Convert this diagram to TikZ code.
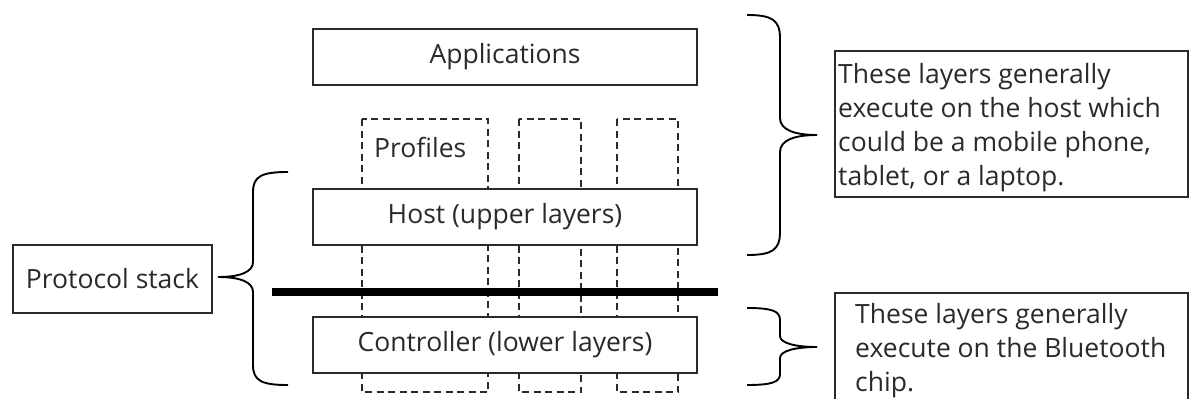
\documentclass[tikz,border=0pt]{standalone}
\usepackage{fontspec}
\setmainfont{Open Sans}
\definecolor{ink}{HTML}{2A2A2A}
\begin{document}
\begin{tikzpicture}[x=1pt,y=-1pt,
  box/.style={draw=ink,line width=1.8pt,fill=white,inner sep=0pt,text=ink,font=\fontsize{26.5}{30}\selectfont},
  col/.style={draw=ink,line width=1.6pt,dash pattern=on 7pt off 4.5pt},
  brace/.style={draw=black,line width=1.9pt},
  note/.style={text=ink,font=\fontsize{26.5}{34}\selectfont,align=left,inner sep=0pt,anchor=north west}]
\useasboundingbox (0,0) rectangle (1189,399);
\begin{scope}
\clip (0,0) rectangle (1189,399);
% dashed profile columns
\draw[col] (362,119) rectangle (488,392);
\draw[col] (519,119) rectangle (581,392);
\draw[col] (617,119) rectangle (678,392);
\node[text=ink,font=\fontsize{26.5}{30}\selectfont,anchor=base west,inner sep=0pt] (prof) at (374,157) {Profiles};
% layer boxes
\node[box,minimum width=384pt,minimum height=56pt] (apps) at (505,57) {Applications};
\node[box,minimum width=384pt,minimum height=56pt] (host) at (505,217) {Host (upper layers)};
\node[box,minimum width=384pt,minimum height=56pt] (ctrl) at (505,345) {Controller (lower layers)};
% thick divider
\coordinate (divL) at (272,292);
\coordinate (divR) at (718,292);
\draw[line width=8pt] (divL) -- (divR);
% protocol stack
\node[box,minimum width=199pt,minimum height=68pt] (proto) at (112.5,279) {Protocol stack};
% left brace
\draw[brace] (288,172) .. controls (262,172) and (253,176) .. (253,192)
  -- (253,262) .. controls (253,272) and (240,277) .. (218,277)
  .. controls (240,277) and (253,282) .. (253,292)
  -- (253,365) .. controls (253,381) and (262,385) .. (288,385);
% big right brace
\draw[brace] (747,15) .. controls (772,15) and (780,20) .. (780,38)
  -- (780,118) .. controls (780,130) and (795,135) .. (817,135)
  .. controls (795,135) and (780,140) .. (780,152)
  -- (780,232) .. controls (780,250) and (772,255) .. (747,255);
% small right brace
\draw[brace] (747,308) .. controls (772,308) and (780,311) .. (780,320)
  -- (780,336) .. controls (780,343) and (795,347) .. (817,347)
  .. controls (795,347) and (780,351) .. (780,358)
  -- (780,374) .. controls (780,382) and (772,385) .. (747,385);
% note boxes
\draw[draw=ink,line width=1.6pt] (835,51) rectangle (1188,197);
\node[note] (note1) at (838,63) {These layers generally\\execute on the host which\\could be a mobile phone,\\tablet, or a laptop.};
\draw[draw=ink,line width=1.6pt] (1188,420) -- (1188,293) -- (835,293) -- (835,420);
\node[note] (note2) at (855,303) {These layers generally\\execute on the Bluetooth\\chip.};
\end{scope}
\end{tikzpicture}
\end{document}
